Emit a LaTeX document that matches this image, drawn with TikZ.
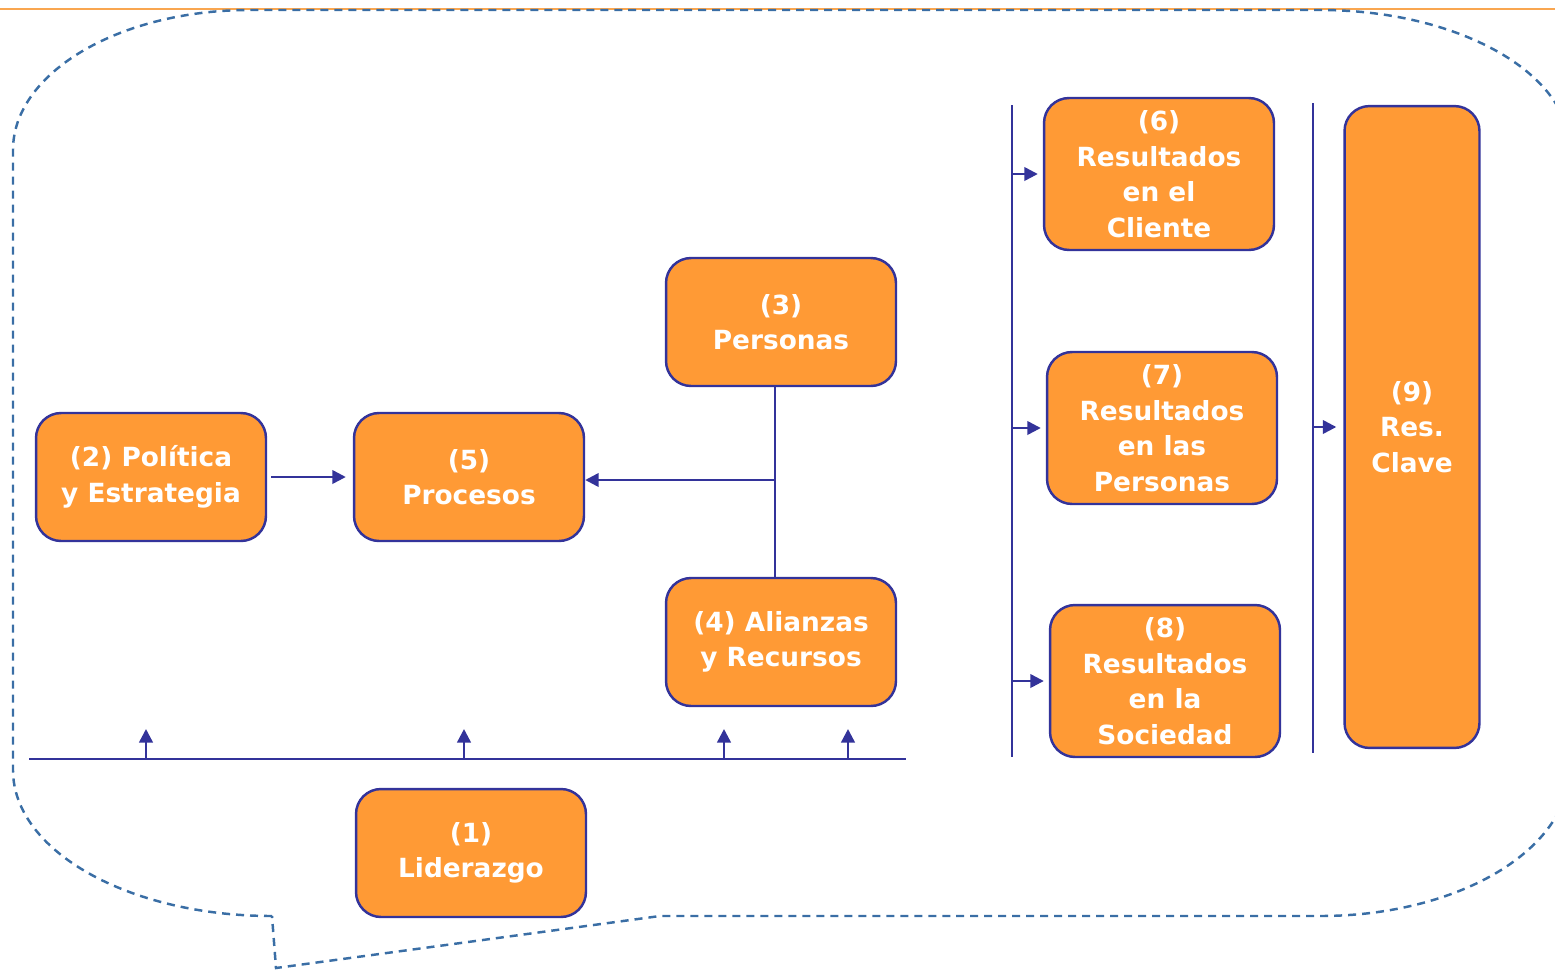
\documentclass[tikz,border=0pt]{standalone}
\usepackage{fontspec}
\setmainfont{DejaVu Sans}
\usetikzlibrary{arrows.meta}

\definecolor{naranja}{HTML}{FF9A35}
\definecolor{azul}{HTML}{33339A}
\definecolor{acero}{HTML}{3A6EA5}
\definecolor{raya}{HTML}{F9A650}

\tikzset{
  bloque/.style={draw=azul, line width=1.4pt, fill=naranja, rounded corners=0.5cm,
    text=white, align=center, inner sep=0pt, minimum width=4.6cm, minimum height=2.56cm,
    font=\bfseries\fontsize{15}{20.2}\selectfont},
  flecha/.style={azul, line width=1.4pt, -{Triangle[length=0.27cm,width=0.27cm]}},
  linea/.style={azul, line width=1.4pt},
  contorno/.style={acero, line width=1.4pt, dash pattern=on 0.16cm off 0.12cm}
}

\begin{document}
\begin{tikzpicture}[x=0.02cm, y=-0.02cm]
\useasboundingbox (0,0) rectangle (1555,970);

\draw[raya, line width=1.6pt] (0,9) -- (1555,9);
\draw[contorno] (272,916) .. controls (129,916) and (13,851) .. (13,770) -- (13,150)
  .. controls (13,73) and (119,10) .. (250,10) -- (1320,10)
  .. controls (1458,10) and (1570,73) .. (1570,150) -- (1570,767)
  .. controls (1570,850) and (1458,916) .. (1320,916) -- (660,916) -- (276,968) -- cycle;

% facilitadores
\node[bloque] (p2) at (151,477) {(2) Política\\y Estrategia};
\node[bloque] (p5) at (469,477) {(5)\\Procesos};
\node[bloque] (p3) at (781,322) {(3)\\Personas};
\node[bloque] (p4) at (781,642) {(4) Alianzas\\y Recursos};
\node[bloque] (p1) at (471,853) {(1)\\Liderazgo};

% resultados
\node[bloque, minimum height=3.04cm] (r6) at (1159,174) {(6)\\Resultados\\en el\\Cliente};
\node[bloque, minimum height=3.04cm] (r7) at (1162,428) {(7)\\Resultados\\en las\\Personas};
\node[bloque, minimum height=3.04cm] (r8) at (1165,681) {(8)\\Resultados\\en la\\Sociedad};
\node[bloque, minimum width=2.7cm, minimum height=12.84cm] (r9) at (1412,427) {(9)\\Res.\\Clave};

\draw[flecha, shorten <=0.08cm, shorten >=0.14cm] (p2.east) -- (p5.west |- p2.east);

\coordinate (union) at (775,480);
\draw[linea] (p3.south -| union) -- (p4.north -| union);
\draw[flecha] (union) -- (p5.east |- union);

\coordinate (izq) at (29,759);
\coordinate (der) at (906,759);
\draw[linea] (izq) -- (der);
\foreach \x [count=\i] in {146,464,724,848}
{ \coordinate (b\i) at (\x,759);
  \draw[flecha] (b\i) -- ++(0,-30);
}

\coordinate (bus1) at (1012,105);
\coordinate (bus2) at (1313,103);
\draw[linea] (bus1) -- (1012,757);
\draw[linea] (bus2) -- (1313,753);
\foreach \r in {r6,r7,r8}
  \draw[flecha, shorten >=0.1cm] (bus1 |- \r.west) -- (\r.west);
\draw[flecha, shorten >=0.14cm] (bus2 |- r9.west) -- (r9.west);

\end{tikzpicture}
\end{document}
